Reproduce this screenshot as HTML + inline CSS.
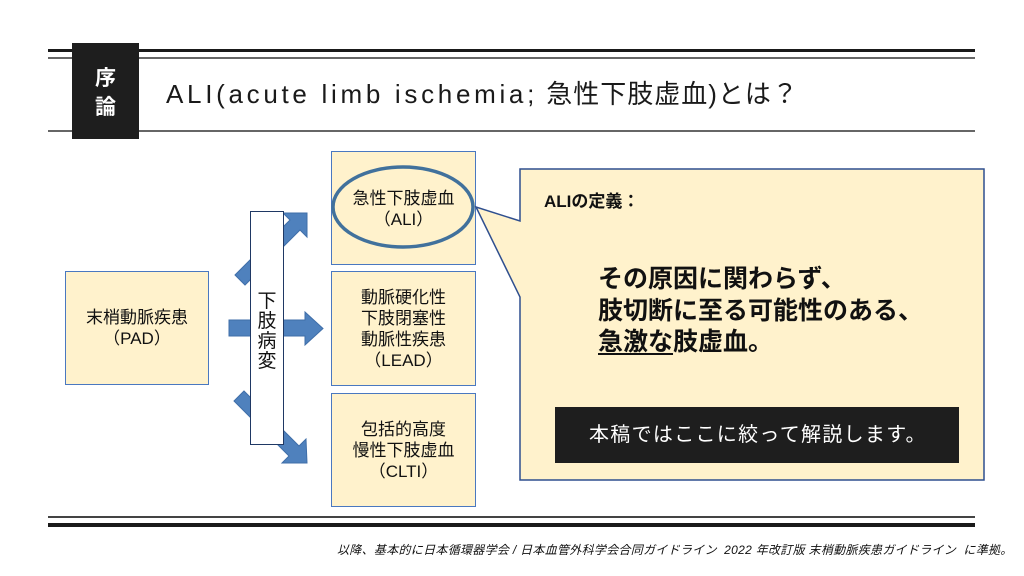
<!DOCTYPE html>
<html><head><meta charset="utf-8">
<style>
*{margin:0;padding:0;box-sizing:border-box}
body{width:1024px;height:576px;overflow:hidden;background:#fff;position:relative;font-family:"Liberation Sans","Noto Sans CJK JP",sans-serif;color:#111}
.abs{position:absolute}
.box{position:absolute;background:#FFF2CC;border:1.5px solid #4a78c0;display:flex;flex-direction:column;align-items:center;justify-content:center;font-size:17px;line-height:21px;text-align:center;z-index:1}
</style></head><body>
<!-- header lines -->
<div class="abs" style="left:48px;top:49px;width:927px;height:3px;background:#1a1a1a"></div>
<div class="abs" style="left:48px;top:57px;width:927px;height:1.5px;background:#666"></div>
<div class="abs" style="left:48px;top:130px;width:927px;height:2px;background:#666"></div>
<div class="abs" style="left:72px;top:43px;width:67px;height:96px;background:#1e1e1e;z-index:2"></div>
<div class="abs" style="left:72px;top:64px;width:67px;text-align:center;color:#fff;font-weight:bold;font-size:21px;line-height:29px;z-index:3">序<br>論</div>
<div class="abs" style="left:166px;top:79px;font-size:26px;line-height:30px;white-space:nowrap;color:#1a1a1a"><span style="letter-spacing:3.7px">ALI(acute limb ischemia;</span><span style="letter-spacing:1px"> 急性下肢虚血)とは？</span></div>

<!-- boxes -->
<div class="box" style="left:65px;top:271px;width:144px;height:114px">末梢動脈疾患<br>（PAD）</div>
<div class="box" style="left:331px;top:151px;width:145px;height:114px;padding-top:2px">急性下肢虚血<br>（ALI）</div>
<div class="box" style="left:331px;top:271px;width:145px;height:115px">動脈硬化性<br>下肢閉塞性<br>動脈性疾患<br>（LEAD）</div>
<div class="box" style="left:331px;top:393px;width:145px;height:114px">包括的高度<br>慢性下肢虚血<br>（CLTI）</div>

<svg class="abs" style="left:0;top:0;z-index:2" width="1024" height="576" viewBox="0 0 1024 576">
  <g fill="#4f81bd" stroke="#3f6ea8" stroke-width="1">
    <polygon points="235,275 290,220 283,213 307,213 307,237 300,230 245,285"/>
    <polygon points="229,320 305,320 305,312 323,328.5 305,345 305,336 229,336"/>
    <polygon points="244,391 299,446 306,439 307,463 282,463 289,456 234,401"/>
  </g>
  <ellipse cx="403" cy="207" rx="70" ry="40" fill="none" stroke="#41719c" stroke-width="3.5"/>
  <path d="M520,169 H984 V480 H520 V297 L476,207 L520,221 Z" fill="#FFF2CC" stroke="#2f4f8f" stroke-width="1.5" stroke-linejoin="miter"/>
</svg>

<!-- vertical box -->
<div class="abs" style="left:250px;top:211px;width:34px;height:234px;background:#fff;border:1.5px solid #1f3864;z-index:3"></div>
<div class="abs" style="left:250px;top:292px;width:34px;text-align:center;font-size:19px;line-height:20px;z-index:4;color:#111">下<br>肢<br>病<br>変</div>

<!-- callout text -->
<div class="abs" style="left:544px;top:192px;font-size:17px;line-height:20px;font-weight:bold;z-index:4;white-space:nowrap">ALIの定義：</div>
<div class="abs" style="left:598px;top:264px;font-size:25px;line-height:31.5px;font-weight:bold;z-index:4;white-space:nowrap;color:#111">その原因に関わらず、<br>肢切断に至る可能性のある、<br><span style="text-decoration:underline;text-decoration-thickness:2px;text-underline-offset:3px">急激な</span>肢虚血。</div>
<div class="abs" style="left:555px;top:407px;width:404px;height:56px;background:#1e1e1e;z-index:4;color:#fff;font-size:20px;line-height:56px;padding-left:34px;letter-spacing:1.3px;white-space:nowrap">本稿ではここに絞って解説します。</div>

<!-- bottom lines -->
<div class="abs" style="left:48px;top:516px;width:927px;height:2px;background:#444"></div>
<div class="abs" style="left:48px;top:523px;width:927px;height:4px;background:#1a1a1a"></div>
<div class="abs" style="left:337px;top:542px;font-size:12px;line-height:16px;font-style:italic;white-space:nowrap;color:#111;letter-spacing:0.3px">以降、基本的に日本循環器学会 / 日本血管外科学会合同ガイドライン&nbsp; 2022 年改訂版 末梢動脈疾患ガイドライン&nbsp; に準拠。</div>
</body></html>
